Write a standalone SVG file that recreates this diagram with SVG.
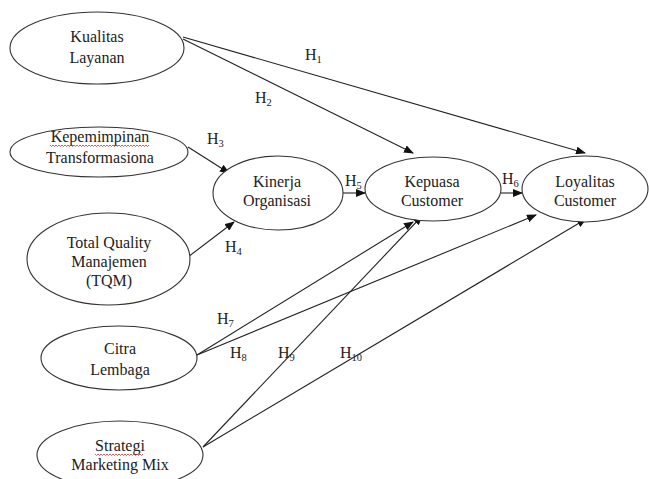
<svg xmlns="http://www.w3.org/2000/svg" width="649" height="479" viewBox="0 0 649 479">
<defs>
<style>
.node ellipse{fill:#fff;stroke:#333;stroke-width:1.1}
.t{font-family:'Liberation Serif','DejaVu Serif',serif;font-size:16px;fill:#222}
.lbl{text-anchor:middle}
.edge line{stroke:#222;stroke-width:1.1;marker-end:url(#arr)}
.sub{font-size:10.5px}
.wavy{fill:none;stroke:#d03030;stroke-width:0.8}
</style>
<marker id="arr" markerWidth="10" markerHeight="8" refX="9" refY="4" orient="auto" markerUnits="userSpaceOnUse">
<path d="M0,0 L10,4 L0,8 z" fill="#111"/>
</marker>
</defs>
<rect width="649" height="479" fill="#fff"/>

<g id="connectors" class="edge">
<line x1="183" y1="37" x2="585" y2="153"/>
<line x1="183" y1="39" x2="413" y2="153"/>
<line x1="188" y1="147" x2="229" y2="173"/>
<line x1="188" y1="257" x2="234" y2="222"/>
<line x1="343" y1="193" x2="365" y2="193"/>
<line x1="501" y1="193" x2="522" y2="193"/>
<line x1="197" y1="355" x2="413" y2="222"/>
<line x1="197" y1="355" x2="536" y2="215"/>
<line x1="203" y1="447" x2="422" y2="216"/>
<line x1="203" y1="447" x2="586" y2="219"/>
</g>

<g id="kualitas" class="node">
<ellipse cx="97" cy="48" rx="87" ry="36"/>
<text class="t lbl" x="97" y="42">Kualitas</text>
<text class="t lbl" x="97" y="63">Layanan</text>
</g>
<g id="kepemimpinan" class="node">
<ellipse cx="99" cy="152" rx="89" ry="25"/>
<text class="t lbl" x="100" y="142">Kepemimpinan</text>
<path class="wavy" d="M50,145 l1.5,1.5 l1.5,-1.5 l1.5,1.5 l1.5,-1.5 l1.5,1.5 l1.5,-1.5 l1.5,1.5 l1.5,-1.5 l1.5,1.5 l1.5,-1.5 l1.5,1.5 l1.5,-1.5 l1.5,1.5 l1.5,-1.5 l1.5,1.5 l1.5,-1.5 l1.5,1.5 l1.5,-1.5 l1.5,1.5 l1.5,-1.5 l1.5,1.5 l1.5,-1.5 l1.5,1.5 l1.5,-1.5 l1.5,1.5 l1.5,-1.5 l1.5,1.5 l1.5,-1.5 l1.5,1.5 l1.5,-1.5 l1.5,1.5 l1.5,-1.5 l1.5,1.5 l1.5,-1.5 l1.5,1.5 l1.5,-1.5 l1.5,1.5 l1.5,-1.5 l1.5,1.5 l1.5,-1.5 l1.5,1.5 l1.5,-1.5 l1.5,1.5 l1.5,-1.5 l1.5,1.5 l1.5,-1.5 l1.5,1.5 l1.5,-1.5 l1.5,1.5 l1.5,-1.5 l1.5,1.5 l1.5,-1.5 l1.5,1.5 l1.5,-1.5 l1.5,1.5 l1.5,-1.5 l1.5,1.5 l1.5,-1.5 l1.5,1.5 l1.5,-1.5 l1.5,1.5 l1.5,-1.5 l1.5,1.5 l1.5,-1.5 l1.5,1.5 l1.5,-1.5"/>
<text class="t lbl" x="100" y="163">Transformasiona</text>
</g>
<g id="tqm" class="node">
<ellipse cx="108.5" cy="259" rx="81.5" ry="46"/>
<text class="t lbl" x="109" y="248">Total Quality</text>
<text class="t lbl" x="109" y="267">Manajemen</text>
<text class="t lbl" x="109" y="286">(TQM)</text>
</g>
<g id="citra" class="node">
<ellipse cx="119" cy="358" rx="78" ry="32"/>
<text class="t lbl" x="120" y="354">Citra</text>
<text class="t lbl" x="120" y="375">Lembaga</text>
</g>
<g id="strategi" class="node">
<ellipse cx="120" cy="455" rx="83" ry="34"/>
<text class="t lbl" x="120" y="451">Strategi</text>
<path class="wavy" d="M95,454 l1.5,1.5 l1.5,-1.5 l1.5,1.5 l1.5,-1.5 l1.5,1.5 l1.5,-1.5 l1.5,1.5 l1.5,-1.5 l1.5,1.5 l1.5,-1.5 l1.5,1.5 l1.5,-1.5 l1.5,1.5 l1.5,-1.5 l1.5,1.5 l1.5,-1.5 l1.5,1.5 l1.5,-1.5 l1.5,1.5 l1.5,-1.5 l1.5,1.5 l1.5,-1.5 l1.5,1.5 l1.5,-1.5 l1.5,1.5 l1.5,-1.5 l1.5,1.5 l1.5,-1.5 l1.5,1.5 l1.5,-1.5 l1.5,1.5 l1.5,-1.5"/>
<text class="t lbl" x="120" y="470">Marketing Mix</text>
</g>
<g id="kinerja" class="node">
<ellipse cx="278" cy="193" rx="65" ry="37"/>
<text class="t lbl" x="277" y="187">Kinerja</text>
<text class="t lbl" x="277" y="206">Organisasi</text>
</g>
<g id="kepuasa" class="node">
<ellipse cx="433" cy="189" rx="68" ry="32"/>
<text class="t lbl" x="432" y="187">Kepuasa</text>
<text class="t lbl" x="432" y="206">Customer</text>
</g>
<g id="loyalitas" class="node">
<ellipse cx="585" cy="189" rx="63" ry="33"/>
<text class="t lbl" x="585" y="187">Loyalitas</text>
<text class="t lbl" x="585" y="206">Customer</text>
</g>

<g id="labels">
<text class="t" x="305" y="60">H<tspan class="sub" dy="3">1</tspan></text>
<text class="t" x="255" y="103">H<tspan class="sub" dy="3">2</tspan></text>
<text class="t" x="207" y="144">H<tspan class="sub" dy="3">3</tspan></text>
<text class="t" x="225" y="252">H<tspan class="sub" dy="3">4</tspan></text>
<text class="t" x="345" y="186">H<tspan class="sub" dy="3">5</tspan></text>
<text class="t" x="502" y="184">H<tspan class="sub" dy="3">6</tspan></text>
<text class="t" x="217" y="324">H<tspan class="sub" dy="3">7</tspan></text>
<text class="t" x="230" y="358">H<tspan class="sub" dy="3">8</tspan></text>
<text class="t" x="278" y="358">H<tspan class="sub" dy="3">9</tspan></text>
<text class="t" x="340" y="358">H<tspan class="sub" dy="3">10</tspan></text>
</g>
</svg>
